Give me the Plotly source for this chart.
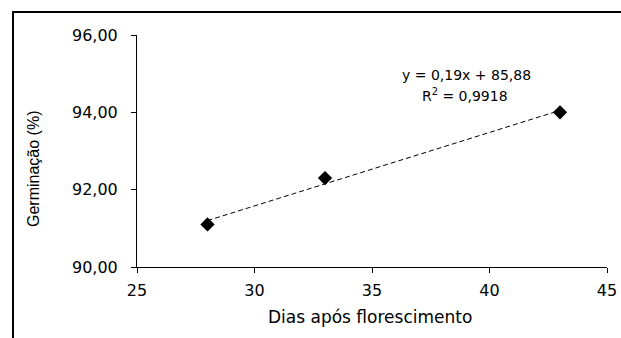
import numpy as np
import plotly.graph_objects as go

dias = [28, 33, 43]
germinacao = [91.1, 92.3, 94.0]
x_ticks = [25, 30, 35, 40, 45]
y_ticks = [90, 92, 94, 96]
y_tick_labels = ["90,00", "92,00", "94,00", "96,00"]
eq_text = "y = 0,19x + 85,88"
r2_text = "R<sup>2</sup> = 0,9918"
x_title = "Dias após florescimento"
y_title = "Germinação (%)"

slope, intercept = np.polyfit(dias, germinacao, 1)
trend_x = [min(dias), max(dias)]
trend_y = [slope * v + intercept for v in trend_x]

W, H = 621, 338
L, R, T, B = 137, 14, 35, 71
pw, ph = W - L - R, H - T - B

def px_x(p):
    return (p - L) / pw

def px_y(p):
    return (H - B - p) / ph

fig = go.Figure()
fig.add_trace(go.Scatter(x=trend_x, y=trend_y, mode="lines",
                         line=dict(color="black", width=1, dash="5px,3px"),
                         hoverinfo="skip"))
fig.add_trace(go.Scatter(x=dias, y=germinacao, mode="markers",
                         marker=dict(symbol="diamond", size=11, color="black")))

font = "DejaVu Sans, Arial, sans-serif"
font2 = "Liberation Sans, Arial, sans-serif"
ann = dict(xref="paper", yref="paper", showarrow=False,
           xanchor="center", yanchor="middle")
fig.update_layout(
    width=W, height=H,
    margin=dict(l=L, r=R, t=T, b=B),
    paper_bgcolor="white", plot_bgcolor="white",
    showlegend=False,
    font=dict(family=font, color="black", size=16),
    xaxis=dict(range=[25, 45], tickvals=x_ticks, ticks="outside", ticklen=5,
               tickcolor="black", showline=True, linecolor="black", linewidth=1,
               showgrid=False, zeroline=False, tickfont=dict(size=16),
               ticklabelstandoff=4, automargin=False),
    yaxis=dict(range=[90, 96], tickvals=y_ticks, ticktext=y_tick_labels,
               ticks="outside", ticklen=5, tickcolor="black", showline=True,
               linecolor="black", linewidth=1, showgrid=False, zeroline=False,
               tickfont=dict(size=16), ticklabelstandoff=10, automargin=False),
    shapes=[dict(type="rect", xref="paper", yref="paper",
                 x0=px_x(13), x1=px_x(640), y0=px_y(400), y1=px_y(12),
                 line=dict(color="black", width=2), fillcolor="rgba(0,0,0,0)")],
    annotations=[
        dict(ann, x=px_x(466), y=px_y(75), text=eq_text, font=dict(size=14)),
        dict(ann, x=px_x(465), y=px_y(95), text=r2_text, font=dict(size=14)),
        dict(ann, x=px_x(370), y=px_y(317), text=x_title, font=dict(size=17)),
        dict(ann, x=px_x(33), y=px_y(169), text=y_title, textangle=-90,
             font=dict(size=16, family=font2)),
    ],
)

fig.write_html("out.html", config={"displayModeBar": False},
               post_script="document.body.style.margin='0';")
